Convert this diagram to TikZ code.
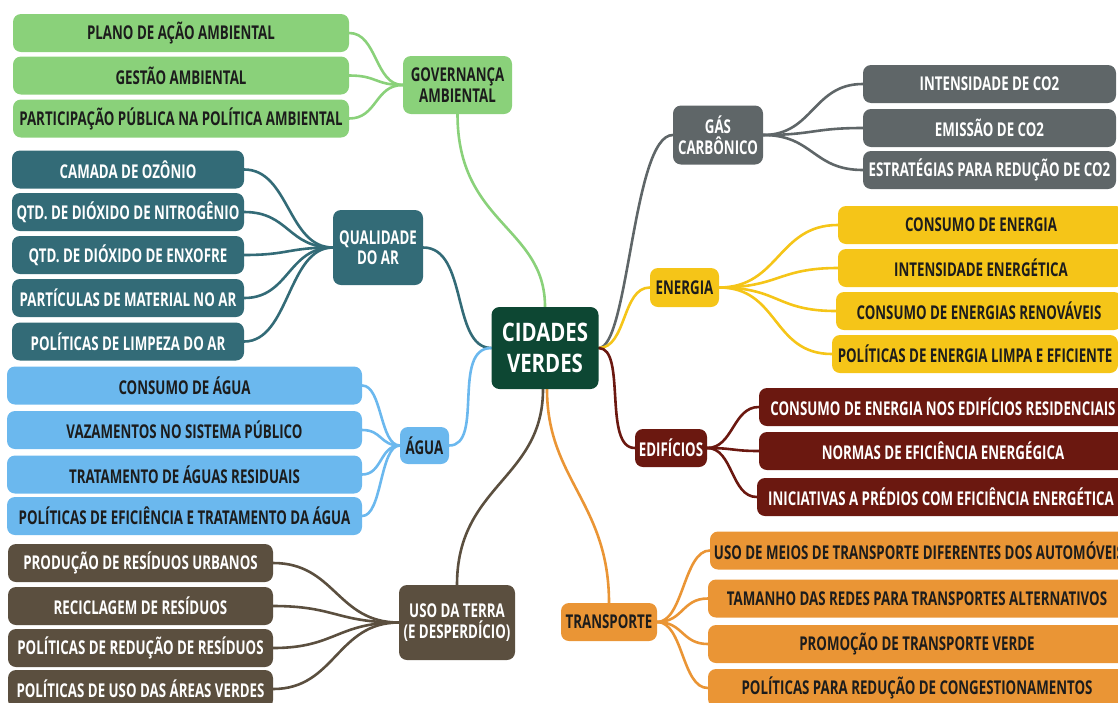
\documentclass[tikz,border=0pt]{standalone}
\usepackage{fontspec}
\setmainfont{Open Sans}[FakeStretch=0.7]
\newfontfamily\cfont{Open Sans}[FakeStretch=0.8]
\definecolor{cgreen}{HTML}{8AD17A}
\definecolor{cteal}{HTML}{336B77}
\definecolor{cblue}{HTML}{6BB8EE}
\definecolor{cbrown}{HTML}{5B4F3F}
\definecolor{cgray}{HTML}{5F6668}
\definecolor{cyellow}{HTML}{F5C518}
\definecolor{cred}{HTML}{6B1810}
\definecolor{corange}{HTML}{EA9535}
\definecolor{ccenter}{HTML}{0D4733}
\definecolor{ctext}{HTML}{1C1C1C}
\pgfdeclarelayer{bg}
\pgfsetlayers{bg,main}
\tikzset{
  box/.style={rounded corners=8pt, minimum height=38pt, inner sep=2pt, align=center,
    font=\fontsize{19}{20.5}\selectfont\bfseries},
  lbox/.style={box, fill=#1, text=ctext},
  dbox/.style={box, fill=#1, text=white},
  conn/.style={draw=#1, line width=2.6pt, line cap=round},
}
\begin{document}
\begin{tikzpicture}[x=1pt,y=-1pt]
\useasboundingbox (0,0) rectangle (1118,702);
\clip (0,0) rectangle (1118,702);
% center
\node[box, fill=ccenter, text=white, minimum width=107pt, minimum height=82pt,
  font=\cfont\fontsize{25.5}{31}\selectfont\bfseries] (C) at (545,348) {CIDADES\\VERDES};
% governanca
\node[lbox=cgreen, minimum width=109pt, minimum height=58pt] (G) at (457.5,85) {GOVERNANÇA\\AMBIENTAL};
\node[lbox=cgreen, minimum width=336pt] (g1) at (181,33) {PLANO DE AÇÃO AMBIENTAL};
\node[lbox=cgreen, minimum width=336pt] (g2) at (181,75.5) {GESTÃO AMBIENTAL};
\node[lbox=cgreen, minimum width=336pt] (g3) at (181,118.5) {PARTICIPAÇÃO PÚBLICA NA POLÍTICA AMBIENTAL};
% qualidade do ar
\node[dbox=cteal, minimum width=90pt, minimum height=75pt] (Q) at (378,247.5) {QUALIDADE\\DO AR};
\node[dbox=cteal, minimum width=232pt] (q1) at (128,169.5) {CAMADA DE OZÔNIO};
\node[dbox=cteal, minimum width=232pt] (q2) at (128,212) {QTD. DE DIÓXIDO DE NITROGÊNIO};
\node[dbox=cteal, minimum width=232pt] (q3) at (128,255) {QTD. DE DIÓXIDO DE ENXOFRE};
\node[dbox=cteal, minimum width=232pt] (q4) at (128,298) {PARTÍCULAS DE MATERIAL NO AR};
\node[dbox=cteal, minimum width=232pt] (q5) at (128,341.5) {POLÍTICAS DE LIMPEZA DO AR};
% agua
\node[lbox=cblue, minimum width=49pt, minimum height=37pt] (A) at (424.5,445.5) {ÁGUA};
\node[lbox=cblue, minimum width=355pt] (a1) at (184.5,385.5) {CONSUMO DE ÁGUA};
\node[lbox=cblue, minimum width=355pt] (a2) at (184.5,430) {VAZAMENTOS NO SISTEMA PÚBLICO};
\node[lbox=cblue, minimum width=355pt] (a3) at (184.5,474.5) {TRATAMENTO DE ÁGUAS RESIDUAIS};
\node[lbox=cblue, minimum width=355pt] (a4) at (184.5,516) {POLÍTICAS DE EFICIÊNCIA E TRATAMENTO DA ÁGUA};
% uso da terra
\node[dbox=cbrown, minimum width=116pt, minimum height=75pt] (U) at (457,622.5) {USO DA TERRA\\(E DESPERDÍCIO)};
\node[dbox=cbrown, minimum width=265pt] (u1) at (140.5,563) {PRODUÇÃO DE RESÍDUOS URBANOS};
\node[dbox=cbrown, minimum width=265pt] (u2) at (140.5,606) {RECICLAGEM DE RESÍDUOS};
\node[dbox=cbrown, minimum width=265pt] (u3) at (140.5,648) {POLÍTICAS DE REDUÇÃO DE RESÍDUOS};
\node[dbox=cbrown, minimum width=265pt] (u4) at (140.5,689) {POLÍTICAS DE USO DAS ÁREAS VERDES};
% gas carbonico
\node[dbox=cgray, minimum width=90pt, minimum height=59pt] (K) at (718,135) {GÁS\\CARBÔNICO};
\node[dbox=cgray, minimum width=253pt] (k1) at (989.5,84) {INTENSIDADE DE CO2};
\node[dbox=cgray, minimum width=253pt] (k2) at (989.5,128) {EMISSÃO DE CO2};
\node[dbox=cgray, minimum width=253pt] (k3) at (989.5,170) {ESTRATÉGIAS PARA REDUÇÃO DE CO2};
% energia
\node[lbox=cyellow, minimum width=69pt, minimum height=39pt] (E) at (684.5,287.5) {ENERGIA};
\node[lbox=cyellow, minimum width=286pt] (e1) at (981,225) {CONSUMO DE ENERGIA};
\node[lbox=cyellow, minimum width=286pt] (e2) at (981,268) {INTENSIDADE ENERGÉTICA};
\node[lbox=cyellow, minimum width=286pt] (e3) at (979,311) {CONSUMO DE ENERGIAS RENOVÁVEIS};
\node[lbox=cyellow, minimum width=286pt] (e4) at (975,354) {POLÍTICAS DE ENERGIA LIMPA E EFICIENTE};
% edificios
\node[dbox=cred, minimum width=72pt] (D) at (671,448) {EDIFÍCIOS};
\node[dbox=cred, minimum width=368pt] (d1) at (943,407) {CONSUMO DE ENERGIA NOS EDIFÍCIOS RESIDENCIAIS};
\node[dbox=cred, minimum width=368pt] (d2) at (943,451) {NORMAS DE EFICIÊNCIA ENERGÉGICA};
\node[dbox=cred, minimum width=368pt] (d3) at (941,497) {INICIATIVAS A PRÉDIOS COM EFICIÊNCIA ENERGÉTICA};
% transporte
\node[lbox=corange, minimum width=96pt] (T) at (609,622) {TRANSPORTE};
\node[lbox=corange, minimum width=418pt] (t1) at (919,550.5) {USO DE MEIOS DE TRANSPORTE DIFERENTES DOS AUTOMÓVEIS};
\node[lbox=corange, minimum width=418pt] (t2) at (917,598.5) {TAMANHO DAS REDES PARA TRANSPORTES ALTERNATIVOS};
\node[lbox=corange, minimum width=418pt] (t3) at (917,644) {PROMOÇÃO DE TRANSPORTE VERDE};
\node[lbox=corange, minimum width=418pt] (t4) at (917,688) {POLÍTICAS PARA REDUÇÃO DE CONGESTIONAMENTOS};
\begin{pgfonlayer}{bg}
% main branches
\draw[conn=cgreen] (C.north) .. controls +(0,-80) and +(0,110) .. (G.south);
\draw[conn=cteal] (C.west) .. controls +(-40,0) and +(45,0) .. (Q.east);
\draw[conn=cblue] (C.west) .. controls +(-40,0) and +(35,0) .. (A.east);
\draw[conn=cbrown] ([xshift=-2pt]C.south) .. controls +(0,90) and +(0,-100) .. (U.north);
\draw[conn=corange] ([xshift=2pt]C.south) .. controls +(0,90) and +(0,-100) .. (T.north);
\draw[conn=cgray] (C.east) .. controls +(30,0) and +(-40,0) .. (K.west);
\draw[conn=cyellow] (C.east) .. controls +(28,0) and +(-28,0) .. (E.west);
\draw[conn=cred] (C.east) .. controls +(28,0) and +(-32,0) .. (D.west);
% children
\foreach \n in {g1,g2,g3}{\draw[conn=cgreen] (G.west) .. controls +(-28,0) and +(28,0) .. (\n.east);}
\foreach \n in {q1,q2,q3,q4,q5}{\draw[conn=cteal] (Q.west) .. controls +(-45,0) and +(45,0) .. (\n.east);}
\foreach \n in {a1,a2,a3,a4}{\draw[conn=cblue] (A.west) .. controls +(-20,0) and +(20,0) .. (\n.east);}
\foreach \n in {u1,u2,u3,u4}{\draw[conn=cbrown] (U.west) .. controls +(-62,0) and +(62,0) .. (\n.east);}
\foreach \n in {k1,k2,k3}{\draw[conn=cgray] (K.east) .. controls +(50,0) and +(-50,0) .. (\n.west);}
\foreach \n in {e1,e2,e3,e4}{\draw[conn=cyellow] (E.east) .. controls +(60,0) and +(-60,0) .. (\n.west);}
\foreach \n in {d1,d2,d3}{\draw[conn=cred] (D.east) .. controls +(26,0) and +(-26,0) .. (\n.west);}
\foreach \n in {t1,t2,t3,t4}{\draw[conn=corange] (T.east) .. controls +(26,0) and +(-26,0) .. (\n.west);}
\end{pgfonlayer}
\end{tikzpicture}
\end{document}
